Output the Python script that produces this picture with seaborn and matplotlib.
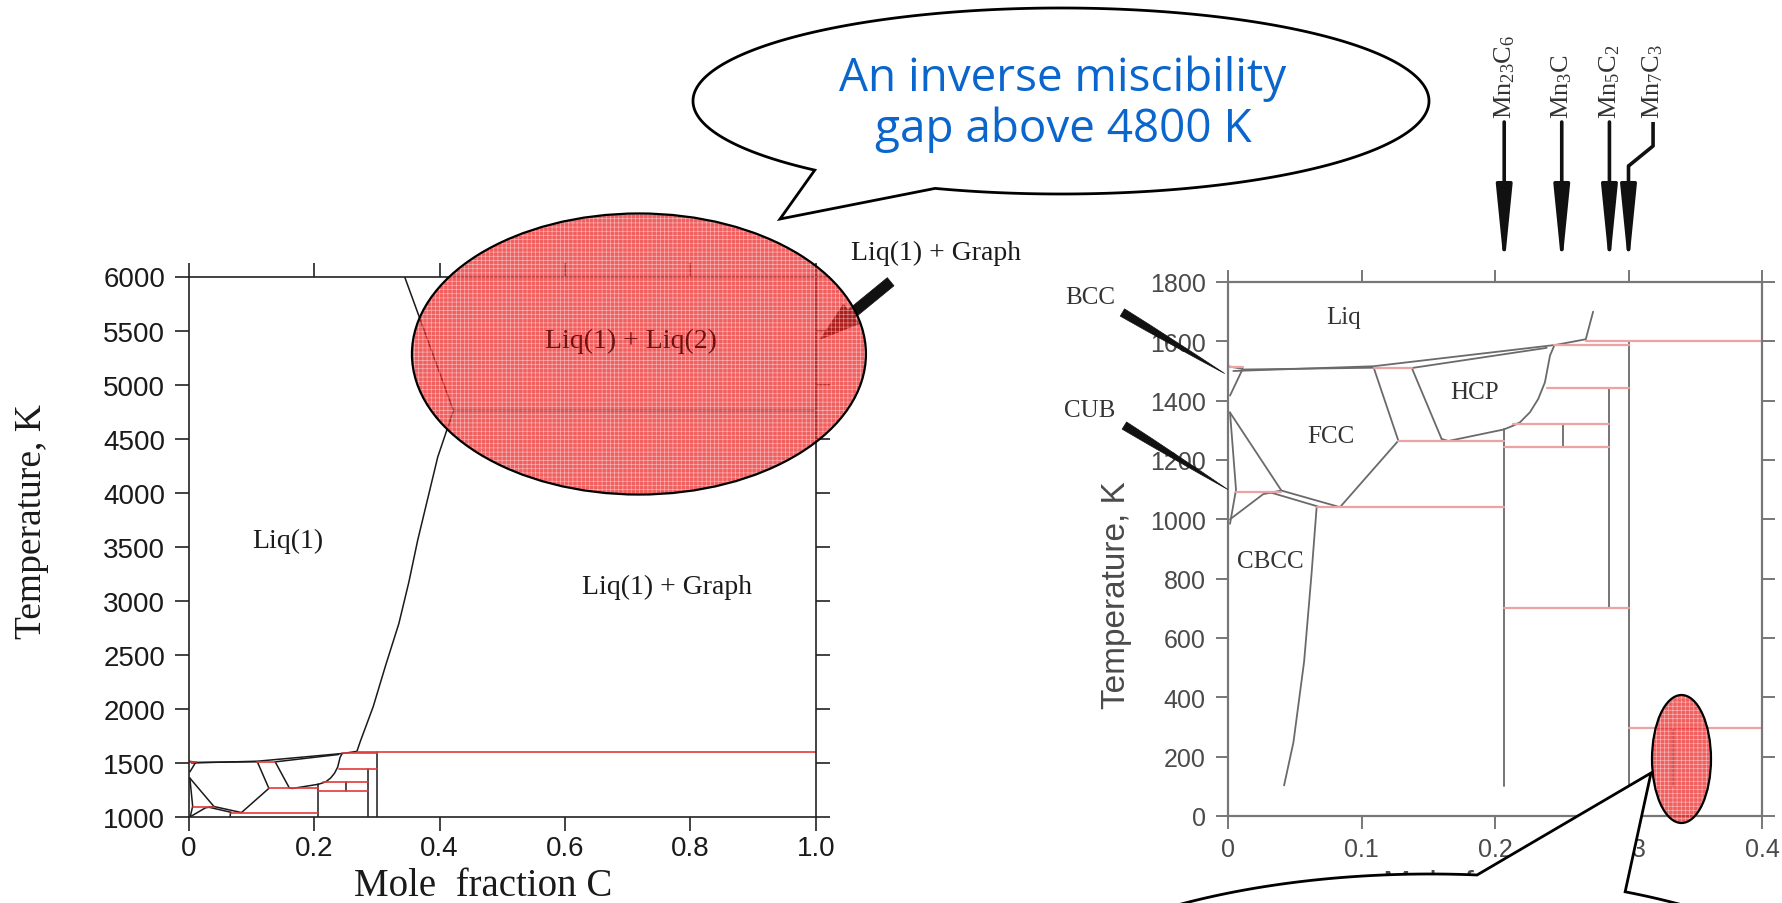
import numpy as np
import pandas as pd
import matplotlib
matplotlib.use('Agg')
import matplotlib.pyplot as plt
import matplotlib.transforms as mtransforms
from matplotlib.patches import Ellipse, Polygon
import seaborn as sns

# ---------------- data: Mn-C phase diagram (mole fraction C, temperature K) ----------------
liquidus_x = [0.004, 0.109, 0.2455, 0.268, 0.2735, 0.294, 0.314, 0.335, 0.351, 0.365, 0.381, 0.397, 0.422]
liquidus_T = [1500, 1516, 1588, 1607, 1700, 2020, 2405, 2790, 3175, 3560, 3945, 4330, 4760]
gap_x = [0.344, 0.422, 1.0]
gap_T = [6000, 4760, 4760]
bcc_x = [0.0, 0.011, 0.0015]
bcc_T = [1516, 1507, 1417]
fcc_sol_x = [0.011, 0.109]
fcc_sol_T = [1505, 1511]
hcp_sol_x = [0.1376, 0.2387]
hcp_sol_T = [1510, 1578]
fcc_x = [0.0015, 0.040, 0.0839, 0.1276, 0.109]
fcc_T = [1360, 1097, 1041, 1265, 1513]
fcchcp_x = [0.1376, 0.160]
fcchcp_T = [1511, 1271]
hcp_x = [0.160, 0.165, 0.2067, 0.2137, 0.2187, 0.2262, 0.2324, 0.2374, 0.2412, 0.2445]
hcp_T = [1271, 1264, 1303, 1316, 1327, 1361, 1406, 1462, 1552, 1587]
cub_x = [0.0015, 0.006, 0.0015]
cub_T = [1361, 1100, 985]
cbcc_top_x = [0.0015, 0.0264, 0.040]
cbcc_top_T = [1000, 1085, 1097]
fcc_cbcc_x = [0.0315, 0.0676]
fcc_cbcc_T = [1091, 1043]
cbcc_x = [0.0664, 0.0625, 0.057, 0.049, 0.042]
cbcc_T = [1041, 812, 520, 248, 103]

# vertical lines (compound lines)
vert_x = [0.2067, 0.251, 0.2855, 0.300, 0.333]
vert_top = [1305, 1321, 1443, 1600, 296]
vert_bot = [100, 1244, 700, 0, 100]

# red invariant / tie lines
red_T = [1513, 1511, 1092, 1041, 1265, 1321, 1244, 1443, 1588, 1600, 700, 296]
red_x0 = [0.0, 0.109, 0.006, 0.0664, 0.1276, 0.2137, 0.2067, 0.2387, 0.2445, 0.268, 0.2067, 0.300]
red_x1 = [0.011, 0.1376, 0.040, 0.2067, 0.2067, 0.2855, 0.2855, 0.300, 0.300, 1.0, 0.300, 1.0]

# compounds marked on the right panel
compound_names = ['Mn$_{23}$C$_{6}$', 'Mn$_{3}$C', 'Mn$_{5}$C$_{2}$', 'Mn$_{7}$C$_{3}$']
compound_x = [6 / 29, 1 / 4, 2 / 7, 3 / 10]

left_xticks = [0, 0.2, 0.4, 0.6, 0.8, 1.0]
left_xticklabels = ['0', '0.2', '0.4', '0.6', '0.8', '1.0']
left_yticks = list(range(1000, 6001, 500))
right_xticks = [0, 0.1, 0.2, 0.3, 0.4]
right_xticklabels = ['0', '0.1', '0.2', '0.3', '0.4']
right_yticks = list(range(0, 1801, 200))

bubble_text = 'An inverse miscibility\ngap above 4800 K'

# ---------------- build tidy frames ----------------
curves = {
    'liquidus': (liquidus_x, liquidus_T), 'gap': (gap_x, gap_T), 'bcc': (bcc_x, bcc_T),
    'fcc_sol': (fcc_sol_x, fcc_sol_T), 'hcp_sol': (hcp_sol_x, hcp_sol_T), 'fcc': (fcc_x, fcc_T),
    'fcchcp': (fcchcp_x, fcchcp_T), 'hcp': (hcp_x, hcp_T), 'cub': (cub_x, cub_T),
    'cbcc_top': (cbcc_top_x, cbcc_top_T), 'fcc_cbcc': (fcc_cbcc_x, fcc_cbcc_T), 'cbcc': (cbcc_x, cbcc_T),
}
rows = []
for name, (xs, ts) in curves.items():
    for x, t in zip(xs, ts):
        rows.append((name, x, t))
for i, (x, t0, t1) in enumerate(zip(vert_x, vert_top, vert_bot)):
    rows.append((f'v{i}', x, t0))
    rows.append((f'v{i}', x, t1))
df_black = pd.DataFrame(rows, columns=['seg', 'x', 'T'])

rrows = []
for i, (t, x0, x1) in enumerate(zip(red_T, red_x0, red_x1)):
    rrows.append((f'r{i}', x0, t))
    rrows.append((f'r{i}', x1, t))
df_red = pd.DataFrame(rrows, columns=['seg', 'x', 'T'])

# ---------------- styling ----------------
sns.set_theme(style='ticks')
plt.rcParams['font.family'] = ['Liberation Sans', 'DejaVu Sans']
plt.rcParams['mathtext.fontset'] = 'custom'
plt.rcParams['mathtext.rm'] = 'Liberation Serif'
plt.rcParams['mathtext.it'] = 'Liberation Serif:italic'
plt.rcParams['hatch.linewidth'] = 0.45
SERIF = 'Liberation Serif'

W, H = 1782, 904
fig = plt.figure(figsize=(W / 100, H / 100), dpi=100)

def fig_rect(x0, y0, x1, y1):
    return [x0 / W, 1 - y1 / H, (x1 - x0) / W, (y1 - y0) / H]

ax1 = fig.add_axes(fig_rect(188.9, 277.5, 815.7, 818))
ax2 = fig.add_axes(fig_rect(1228, 283, 1762, 817))

PINK = (0.93, 0.13, 0.13, 0.72)
HATCH_EC = (1, 1, 1, 0.55)

# ----- left panel -----
sns.lineplot(data=df_black, x='x', y='T', units='seg', estimator=None, sort=False,
             color='#1a1a1a', lw=1.1, ax=ax1, legend=False)
sns.lineplot(data=df_red, x='x', y='T', units='seg', estimator=None, sort=False,
             color='#e23a3a', lw=1.2, ax=ax1, legend=False)
ax1.set_xlim(0, 1.0)
ax1.set_ylim(1000, 6000)
ax1.set_xticks(left_xticks, left_xticklabels)
ax1.set_yticks(left_yticks)
for s in ax1.spines.values():
    s.set_color('#222222'); s.set_linewidth(1.2)
ax1.tick_params(direction='out', length=10, width=1.2, color='#222222', top=True, right=True,
                labeltop=False, labelright=False, labelsize=20, labelcolor='#1a1a1a')
ax1.tick_params(axis='x', pad=3)
ax1.tick_params(axis='y', pad=7)
ax1.set_xlabel('Mole  fraction C', fontfamily=SERIF, fontsize=28, color='#1a1a1a')
ax1.set_ylabel('Temperature, K', fontfamily=SERIF, fontsize=27, color='#1a1a1a')
ax1.xaxis.set_label_coords(0.47, -0.093)
ax1.yaxis.set_label_coords(-0.223, 0.549)

ax1.text(0.158, 3562, 'Liq(1)', fontfamily=SERIF, fontsize=20, ha='center', va='center', color='#1a1a1a')
ax1.text(0.763, 3137, 'Liq(1) + Graph', fontfamily=SERIF, fontsize=20, ha='center', va='center', color='#1a1a1a')
ax1.text(0.7055, 5413, 'Liq(1) + Liq(2)', fontfamily=SERIF, fontsize=20, ha='center', va='center',
         color='#6e1212', zorder=8)
ax1.text(1.192, 6227, 'Liq(1) + Graph', fontfamily=SERIF, fontsize=20, ha='center', va='center',
         color='#1a1a1a', clip_on=False)
ax1.annotate('', xy=(1.004, 5403), xytext=(1.123, 5968), annotation_clip=False,
             arrowprops=dict(arrowstyle='simple,head_length=1.6,head_width=1.0,tail_width=0.42',
                             mutation_scale=18, fc='#111111', ec='#111111', lw=0.5))
big = dict(xy=(0.718, 5283), width=0.7243, height=2600)
ax1.add_patch(Ellipse(**big, fc=PINK, ec=HATCH_EC, lw=0, hatch='++++', clip_on=False, zorder=6))
ax1.add_patch(Ellipse(**big, fill=False, ec='black', lw=1.6, clip_on=False, zorder=7))

# ----- right panel -----
gray = '#6a6a6a'
df_black_r = df_black[~((df_black.seg == 'liquidus') & (df_black['T'] > 1700)) & (df_black.seg != 'gap')]
sns.lineplot(data=df_black_r, x='x', y='T', units='seg', estimator=None, sort=False,
             color=gray, lw=1.3, ax=ax2, legend=False)
sns.lineplot(data=df_red, x='x', y='T', units='seg', estimator=None, sort=False,
             color='#eba3a3', lw=1.6, ax=ax2, legend=False)
ax2.set_xlim(0, 0.4)
ax2.set_ylim(0, 1800)
ax2.set_xticks(right_xticks, right_xticklabels)
ax2.set_yticks(right_yticks)
for s in ax2.spines.values():
    s.set_color('#777777'); s.set_linewidth(1.6)
ax2.tick_params(direction='out', length=9, width=1.4, color='#777777', top=True, right=True,
                labeltop=False, labelright=False, labelsize=18, labelcolor='#4a4a4a')
ax2.tick_params(axis='x', pad=6)
ax2.tick_params(axis='y', pad=7)
ax2.set_xlabel('Mole fraction C', fontsize=24, color='#4a4a4a')
ax2.set_ylabel('Temperature, K', fontsize=24, color='#4a4a4a')
ax2.xaxis.set_label_coords(0.5, -0.100)
ax2.yaxis.set_label_coords(-0.18, 0.416)

lab = dict(fontfamily=SERIF, fontsize=18, ha='center', va='center', color='#333333')
ax2.text(0.0869, 1682, 'Liq', **lab)
ax2.text(0.185, 1429, 'HCP', **lab)
ax2.text(0.0772, 1281, 'FCC', **lab)
ax2.text(0.0315, 860, 'CBCC', **lab)
ax2.text(-0.1034, 1750, 'BCC', clip_on=False, **lab)
ax2.text(-0.1034, 1369, 'CUB', clip_on=False, **lab)
for tail, tip in [((-0.0809, 1702), (-0.0008, 1487)), ((-0.0794, 1321), (0.0015, 1096))]:
    ax2.annotate('', xy=tip, xytext=tail, annotation_clip=False,
                 arrowprops=dict(arrowstyle='wedge,tail_width=0.38,shrink_factor=0.6',
                                 mutation_scale=16, fc='#111111', ec='#111111', lw=0.5))

trans = mtransforms.blended_transform_factory(ax2.transData, ax2.transAxes)
label_dx = [0.0, 0.0, 0.0, 0.0184]
for name, x, dx in zip(compound_names, compound_x, label_dx):
    ax2.text(x + dx, 1.307, name, transform=trans, rotation=90, ha='center', va='bottom',
             fontfamily=SERIF, fontsize=19, color='#333333', clip_on=False)
    start = 1.2996 if dx == 0 else 1.2172
    ax2.annotate('', xy=(x, 1.027), xytext=(x, start), xycoords=trans, textcoords=trans,
                 annotation_clip=False,
                 arrowprops=dict(arrowstyle='-|>,head_length=3.0,head_width=0.3', mutation_scale=16,
                                 fc='#111111', ec='#111111', lw=2.6, shrinkA=0, shrinkB=0))
    if dx:
        ax2.plot([x + dx, x + dx, x], [1.2996, 1.2547, 1.2172], transform=trans, color='#111111',
                 lw=2.6, clip_on=False, solid_capstyle='butt')

small = dict(xy=(0.3397, 192), width=0.0442, height=431.5)
ax2.add_patch(Ellipse(**small, fc=PINK, ec=HATCH_EC, lw=0, hatch='++++', clip_on=False, zorder=6))

# ----- overlay for speech bubbles -----
ov = fig.add_axes([0, 0, 1, 1], zorder=10)
ov.set_xlim(0, W)
ov.set_ylim(H, 0)
ov.axis('off')
ov.patch.set_alpha(0)

def bubble(cx, cy, a, b, t1, t2, tip):
    t = np.radians(np.linspace(t2, t1 + 360, 400))
    pts = np.column_stack([cx + a * np.cos(t), cy + b * np.sin(t)])
    pts = np.vstack([pts, tip])
    return Polygon(pts, closed=True, fc='white', ec='black', lw=2.0, joinstyle='miter')

ov.add_patch(bubble(1061, 102, 368, 93, 110, 132, (780, 220)))
ov.text(1063, 104, bubble_text, ha='center', va='center', fontsize=33, color='#0a66cc',
        fontfamily='Open Sans', linespacing=1.12)
ov.add_patch(bubble(1430, 1055, 450, 180, -84, -64.3, (1651, 774)))
ov.add_patch(Ellipse((1681.5, 760), 59, 128, fill=False, ec='black', lw=1.6))

fig.savefig('out.png', dpi=100)
